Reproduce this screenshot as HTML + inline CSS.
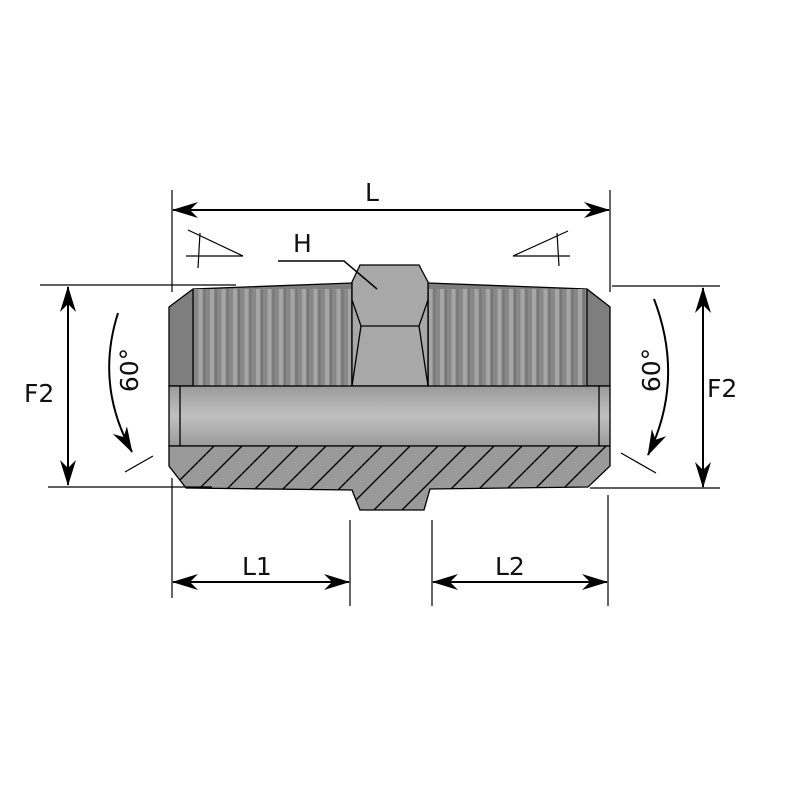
<!DOCTYPE html>
<html><head><style>body{margin:0;background:#fff}svg{display:block}text{font-family:"DejaVu Sans","Liberation Sans",sans-serif;fill:#111}</style></head><body>
<svg width="800" height="800" viewBox="0 0 800 800" xmlns="http://www.w3.org/2000/svg">
<defs>
<marker id="a" viewBox="0 0 26 16" refX="25" refY="8" markerWidth="26" markerHeight="16" markerUnits="userSpaceOnUse" orient="auto"><path d="M0,0 L26,8 L0,16 L8,8z" fill="#000"/></marker>
<pattern id="thr" width="11.5" height="10" patternUnits="userSpaceOnUse"><rect width="11.5" height="10" fill="#888"/><rect x="3" width="4" height="10" fill="#a6a6a6"/><rect x="8" width="2" height="10" fill="#767676"/></pattern>
<linearGradient id="bore" x1="0" y1="0" x2="0" y2="1"><stop offset="0" stop-color="#9a9a9a"/><stop offset=".5" stop-color="#c0c0c0"/><stop offset="1" stop-color="#9a9a9a"/></linearGradient>
<clipPath id="hc"><path d="M171,446 L607,446 L607,466 L588,487 L430,489 L424,510 L360,510 L352,490 L186,488 L171,466z"/></clipPath>
</defs>
<g stroke="#000" stroke-width="1.3">
<path d="M169,307 L193,289 L352,283 L352,386 L169,386z" fill="#7e7e7e"/>
<rect x="194" y="289" width="157" height="97" fill="url(#thr)" stroke="none"/>
<line x1="193" y1="289" x2="193" y2="386"/>
<path d="M428,283 L587,289 L610,307 L610,386 L428,386z" fill="#7e7e7e"/>
<rect x="429" y="289" width="157" height="97" fill="url(#thr)" stroke="none"/>
<line x1="587" y1="289" x2="587" y2="386"/>
<path d="M360,265 L419,265 L428,282 L428,386 L352,386 L352,282z" fill="#a8a8a8"/>
<path d="M352,300 L361,326 L419,326 L428,300" fill="none"/>
<path d="M361,326 L352,386 M419,326 L428,386" fill="none"/>
<rect x="169" y="386" width="441" height="60" fill="url(#bore)"/>
<line x1="180" y1="386" x2="180" y2="446"/><line x1="599" y1="386" x2="599" y2="446"/>
<path d="M169,446 L610,446 L610,466 L588,487 L430,489 L424,510 L360,510 L352,490 L186,488 L169,466z" fill="#9a9a9a"/>
<g clip-path="url(#hc)" stroke-width="1.4">
<path d="M150,510 L215,445 M178,510 L243,445 M206,510 L271,445 M234,510 L299,445 M262,510 L327,445 M290,510 L355,445 M318,510 L383,445 M346,510 L411,445 M374,510 L439,445 M402,510 L467,445 M430,510 L495,445 M458,510 L523,445 M486,510 L551,445 M514,510 L579,445 M542,510 L607,445 M570,510 L635,445"/>
</g>
</g>
<g stroke="#000" stroke-width="1.2" fill="none">
<line x1="172" y1="190" x2="172" y2="292"/><line x1="610" y1="190" x2="610" y2="292"/>
<line x1="40" y1="285" x2="236" y2="285"/><line x1="612" y1="286" x2="720" y2="286"/>
<line x1="48" y1="487" x2="212" y2="487"/><line x1="590" y1="488" x2="720" y2="488"/>
<line x1="172" y1="478" x2="172" y2="598"/><line x1="350" y1="520" x2="350" y2="606"/>
<line x1="432" y1="520" x2="432" y2="606"/><line x1="608" y1="495" x2="608" y2="606"/>
<line x1="180" y1="210" x2="609" y2="210" stroke-width="2" marker-end="url(#a)"/>
<line x1="600" y1="210" x2="173" y2="210" stroke-width="2" marker-end="url(#a)"/>
<line x1="68" y1="300" x2="68" y2="485" stroke-width="2" marker-end="url(#a)"/>
<line x1="68" y1="470" x2="68" y2="287" stroke-width="2" marker-end="url(#a)"/>
<line x1="703" y1="300" x2="703" y2="487" stroke-width="2" marker-end="url(#a)"/>
<line x1="703" y1="470" x2="703" y2="288" stroke-width="2" marker-end="url(#a)"/>
<line x1="180" y1="582" x2="349" y2="582" stroke-width="2" marker-end="url(#a)"/>
<line x1="340" y1="582" x2="173" y2="582" stroke-width="2" marker-end="url(#a)"/>
<line x1="440" y1="582" x2="607" y2="582" stroke-width="2" marker-end="url(#a)"/>
<line x1="598" y1="582" x2="433" y2="582" stroke-width="2" marker-end="url(#a)"/>
<path d="M118,313 Q95,385 132,452" stroke-width="2" marker-end="url(#a)"/>
<path d="M654,299 Q685,380 648,455" stroke-width="2" marker-end="url(#a)"/>
<line x1="125" y1="472" x2="153" y2="456"/><line x1="621" y1="453" x2="656" y2="473"/>
<path d="M278,261 L344,261 L377,289" stroke-width="1.5"/>
<path d="M188,230 L243,256 L186,256 M200,233 L198,268"/>
<path d="M568,231 L513,256 L570,256 M557,233 L559,266"/>
</g>
<g font-size="25">
<text x="365" y="201">L</text>
<text x="293" y="252">H</text>
<text x="24" y="402">F2</text>
<text x="707" y="397">F2</text>
<text x="242" y="575">L1</text>
<text x="495" y="575">L2</text>
<text transform="translate(138,370) rotate(-90)" text-anchor="middle">60°</text>
<text transform="translate(660,370) rotate(-90)" text-anchor="middle">60°</text>
</g>
</svg>
</body></html>
